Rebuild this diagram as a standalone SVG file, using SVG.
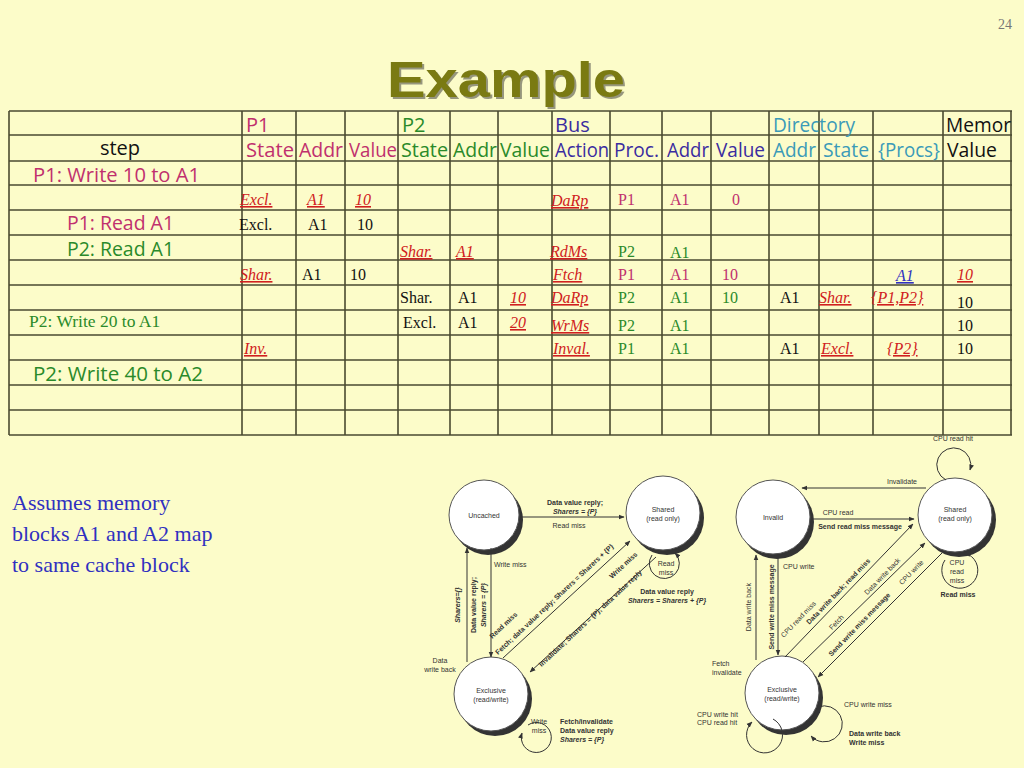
<svg xmlns="http://www.w3.org/2000/svg" width="1024" height="768" viewBox="0 0 1024 768">
<defs>
<style>
.h{font-family:"Open Sans","Liberation Sans",sans-serif;font-size:20px}
.m{fill:#c0306e}.g{fill:#2a8a2a}.b{fill:#3a2ca0}.t{fill:#3a9ab8}.k{fill:#111}
.s{font-family:"Liberation Serif",serif;font-size:16px}
.r{fill:#d02020;font-style:italic;text-decoration:underline}
.bl{fill:#3030c0;font-style:italic;text-decoration:underline}
.d{font-family:"Liberation Sans",sans-serif;font-size:7px;fill:#333}
.db{font-weight:bold}
.ln{stroke:#333;stroke-width:1;fill:none}
.grid line{stroke:#4a4a30;stroke-width:1.6}
</style>
<marker id="a" viewBox="0 0 10 10" refX="9" refY="5" markerWidth="6" markerHeight="6" orient="auto"><path d="M0,1 L10,5 L0,9 z" fill="#333"/></marker>
</defs>
<rect width="1024" height="768" fill="#fcfcc9"/>
<text x="1005" y="29" font-family="Liberation Serif,serif" font-size="14" fill="#777" text-anchor="middle">24</text>
<text x="389" y="99" font-family="Liberation Sans,sans-serif" font-size="50" font-weight="bold" fill="#333" textLength="238" lengthAdjust="spacingAndGlyphs" opacity="0.5">Example</text>
<text x="387" y="97" font-family="Liberation Sans,sans-serif" font-size="50" font-weight="bold" fill="#7a7a12" textLength="238" lengthAdjust="spacingAndGlyphs">Example</text>

<g id="table">
<g class="grid">
<line x1="9" y1="111" x2="1012" y2="111"/><line x1="9" y1="135" x2="1012" y2="135"/><line x1="9" y1="161" x2="1012" y2="161"/><line x1="9" y1="185" x2="1012" y2="185"/><line x1="9" y1="210" x2="1012" y2="210"/><line x1="9" y1="235" x2="1012" y2="235"/><line x1="9" y1="260" x2="1012" y2="260"/><line x1="9" y1="285" x2="1012" y2="285"/><line x1="9" y1="310" x2="1012" y2="310"/><line x1="9" y1="335" x2="1012" y2="335"/><line x1="9" y1="360" x2="1012" y2="360"/><line x1="9" y1="385" x2="1012" y2="385"/><line x1="9" y1="410" x2="1012" y2="410"/><line x1="9" y1="435" x2="1012" y2="435"/>
<line x1="9" y1="111" x2="9" y2="435"/><line x1="242" y1="111" x2="242" y2="435"/><line x1="296" y1="111" x2="296" y2="435"/><line x1="345" y1="111" x2="345" y2="435"/><line x1="398" y1="111" x2="398" y2="435"/><line x1="450" y1="111" x2="450" y2="435"/><line x1="498" y1="111" x2="498" y2="435"/><line x1="552" y1="111" x2="552" y2="435"/><line x1="610" y1="111" x2="610" y2="435"/><line x1="662" y1="111" x2="662" y2="435"/><line x1="711" y1="111" x2="711" y2="435"/><line x1="769" y1="111" x2="769" y2="435"/><line x1="819" y1="111" x2="819" y2="435"/><line x1="873" y1="111" x2="873" y2="435"/><line x1="943" y1="111" x2="943" y2="435"/><line x1="1011" y1="111" x2="1011" y2="435"/>
</g>
<g class="h">
<text x="246" y="132" class="m">P1</text><text x="402" y="132" class="g">P2</text><text x="555" y="132" class="b">Bus</text><text x="773" y="132" class="t" textLength="82" lengthAdjust="spacingAndGlyphs">Directory</text><text x="946" y="132" class="k" textLength="65" lengthAdjust="spacingAndGlyphs">Memor</text>
<text x="120" y="155" class="k" text-anchor="middle">step</text>
<text x="246" y="157" class="m" textLength="48" lengthAdjust="spacingAndGlyphs">State</text><text x="299" y="157" class="m" textLength="44" lengthAdjust="spacingAndGlyphs">Addr</text><text x="349" y="157" class="m" textLength="48" lengthAdjust="spacingAndGlyphs">Value</text>
<text x="401" y="157" class="g" textLength="47" lengthAdjust="spacingAndGlyphs">State</text><text x="453" y="157" class="g" textLength="44" lengthAdjust="spacingAndGlyphs">Addr</text><text x="500" y="157" class="g" textLength="50" lengthAdjust="spacingAndGlyphs">Value</text>
<text x="555" y="157" class="b" textLength="54" lengthAdjust="spacingAndGlyphs">Action</text><text x="614" y="157" class="b" textLength="45" lengthAdjust="spacingAndGlyphs">Proc.</text><text x="667" y="157" class="b" textLength="42" lengthAdjust="spacingAndGlyphs">Addr</text><text x="716" y="157" class="b" textLength="49" lengthAdjust="spacingAndGlyphs">Value</text>
<text x="773" y="157" class="t" textLength="43" lengthAdjust="spacingAndGlyphs">Addr</text><text x="823" y="157" class="t" textLength="46" lengthAdjust="spacingAndGlyphs">State</text><text x="878" y="157" class="t" textLength="62" lengthAdjust="spacingAndGlyphs">{Procs}</text><text x="947" y="157" class="k" textLength="50" lengthAdjust="spacingAndGlyphs">Value</text>
<text x="33" y="182" class="m" textLength="167" lengthAdjust="spacingAndGlyphs">P1: Write 10 to A1</text>
<text x="67" y="230" class="m" textLength="107" lengthAdjust="spacingAndGlyphs">P1: Read A1</text>
<text x="67" y="256" class="g" textLength="107" lengthAdjust="spacingAndGlyphs">P2: Read A1</text>
<text x="33" y="381" class="g" textLength="170" lengthAdjust="spacingAndGlyphs">P2: Write 40 to A2</text>
</g>
<g class="s">
<text x="240" y="205" class="r">Excl.</text><text x="307" y="205" class="r">A1</text><text x="355" y="205" class="r">10</text><text x="551" y="206" class="r">DaRp</text><text x="618" y="205" class="m">P1</text><text x="670" y="205" class="m">A1</text><text x="732" y="205" class="m">0</text>
<text x="239" y="230" class="k">Excl.</text><text x="308" y="230" class="k">A1</text><text x="357" y="230" class="k">10</text>
<text x="400" y="257" class="r">Shar.</text><text x="456" y="257" class="r">A1</text><text x="550" y="257" class="r">RdMs</text><text x="618" y="257" class="g">P2</text><text x="670" y="258" class="g">A1</text>
<text x="240" y="280" class="r">Shar.</text><text x="302" y="280" class="k">A1</text><text x="350" y="280" class="k">10</text><text x="553" y="280" class="r">Ftch</text><text x="618" y="280" class="m">P1</text><text x="670" y="280" class="m">A1</text><text x="722" y="280" class="m">10</text><text x="896" y="281" class="bl">A1</text><text x="957" y="280" class="r">10</text>
<text x="400" y="303" class="k">Shar.</text><text x="458" y="303" class="k">A1</text><text x="510" y="303" class="r">10</text><text x="551" y="303" class="r">DaRp</text><text x="618" y="303" class="g">P2</text><text x="670" y="303" class="g">A1</text><text x="722" y="303" class="g">10</text><text x="780" y="303" class="k">A1</text><text x="819" y="303" class="r">Shar.</text><text x="871" y="303" class="r">{P1,P2}</text><text x="957" y="308" class="k">10</text>
<text x="29" y="327" class="g" font-size="17.5">P2: Write 20 to A1</text><text x="403" y="328" class="k">Excl.</text><text x="458" y="328" class="k">A1</text><text x="510" y="328" class="r">20</text><text x="551" y="331" class="r">WrMs</text><text x="618" y="331" class="g">P2</text><text x="670" y="331" class="g">A1</text><text x="957" y="331" class="k">10</text>
<text x="244" y="354" class="r">Inv.</text><text x="553" y="354" class="r">Inval.</text><text x="618" y="354" class="g">P1</text><text x="670" y="354" class="g">A1</text><text x="780" y="354" class="k">A1</text><text x="821" y="354" class="r">Excl.</text><text x="887" y="354" class="r">{P2}</text><text x="957" y="354" class="k">10</text>
</g>
</g>

<g id="note" font-family="Liberation Serif,serif" font-size="22" fill="#3030c0">
<text x="12" y="510">Assumes memory</text><text x="12" y="541">blocks A1 and A2 map</text><text x="12" y="572">to same cache block</text>
</g>

<g id="dir-nodes">
<g id="uncached"><circle cx="488" cy="520" r="35" fill="#333"/><circle cx="484" cy="515" r="35" fill="#fff" stroke="#555"/><text x="484" y="518" class="d" text-anchor="middle">Uncached</text></g>
<g id="shared1"><circle cx="667" cy="518" r="37" fill="#333"/><circle cx="663" cy="513" r="37" fill="#fff" stroke="#555"/><text x="663" y="512" class="d" text-anchor="middle">Shared</text><text x="663" y="521" class="d" text-anchor="middle">(read only)</text></g>
<g id="excl1"><circle cx="495" cy="699" r="37" fill="#333"/><circle cx="491" cy="694" r="37" fill="#fff" stroke="#555"/><text x="491" y="693" class="d" text-anchor="middle">Exclusive</text><text x="491" y="702" class="d" text-anchor="middle">(read/write)</text></g>
</g>
<g id="dir-connectors">
<line x1="522" y1="517" x2="624" y2="517" class="ln" marker-end="url(#a)"/>
<text x="575" y="505" class="d db" text-anchor="middle">Data value reply;</text><text x="575" y="514" class="d db" font-style="italic" text-anchor="middle">Sharers = {P}</text><text x="569" y="528" class="d" text-anchor="middle">Read miss</text>
<line x1="467" y1="662" x2="467" y2="548" class="ln" marker-end="url(#a)"/>
<line x1="491" y1="548" x2="491" y2="657" class="ln" marker-end="url(#a)"/>
<text x="494" y="567" class="d">Write miss</text>
<text transform="translate(460,605) rotate(-90)" class="d db" font-style="italic" text-anchor="middle">Sharers={}</text>
<text transform="translate(476,605) rotate(-90)" class="d db" text-anchor="middle">Data value reply;</text>
<text transform="translate(486,605) rotate(-90)" class="d db" font-style="italic" text-anchor="middle">Sharers = {P}</text>
<text x="440" y="663" class="d" text-anchor="middle">Data</text><text x="440" y="672" class="d" text-anchor="middle">write back</text>
<line x1="503" y1="658" x2="630" y2="541" class="ln" marker-end="url(#a)"/>
<line x1="656" y1="557" x2="530" y2="672" class="ln" marker-end="url(#a)"/>
<text transform="translate(556,601) rotate(-43)" class="d db" text-anchor="middle">Fetch; data value reply; Sharers = Sharers + {P}</text>
<text transform="translate(505,627) rotate(-43)" class="d db" text-anchor="middle">Read miss</text>
<text transform="translate(592,620) rotate(-43)" class="d db" text-anchor="middle">Invalidate; Sharers = {P}; data value reply</text>
<text transform="translate(625,567) rotate(-43)" class="d db" text-anchor="middle">Write miss</text>
<path d="M652,555 A15,15 0 1 0 675,553" class="ln" marker-end="url(#a)"/>
<text x="666" y="566" class="d" text-anchor="middle">Read</text><text x="666" y="575" class="d" text-anchor="middle">miss</text>
<text x="667" y="594" class="d db" text-anchor="middle">Data value reply</text><text x="667" y="603" class="d db" font-style="italic" text-anchor="middle">Sharers = Sharers + {P}</text>
<path d="M528,725 A15,15 0 1 1 522,733" class="ln" marker-end="url(#a)"/>
<text x="539" y="724" class="d" text-anchor="middle">Write</text><text x="539" y="733" class="d" text-anchor="middle">miss</text>
<text x="560" y="724" class="d db">Fetch/invalidate</text><text x="560" y="733" class="d db">Data value reply</text><text x="560" y="742" class="d db" font-style="italic">Sharers = {P}</text>
</g>

<g id="cache-nodes">
<g id="invalid"><circle cx="777" cy="522" r="37" fill="#333"/><circle cx="773" cy="517" r="37" fill="#fff" stroke="#555"/><text x="773" y="520" class="d" text-anchor="middle">Invalid</text></g>
<g id="shared2"><circle cx="959" cy="520" r="37" fill="#333"/><circle cx="955" cy="515" r="37" fill="#fff" stroke="#555"/><text x="955" y="512" class="d" text-anchor="middle">Shared</text><text x="955" y="521" class="d" text-anchor="middle">(read only)</text></g>
<g id="excl2"><circle cx="786" cy="698" r="37" fill="#333"/><circle cx="782" cy="693" r="37" fill="#fff" stroke="#555"/><text x="782" y="692" class="d" text-anchor="middle">Exclusive</text><text x="782" y="701" class="d" text-anchor="middle">(read/write)</text></g>
</g>
<g id="cache-connectors">
<line x1="926" y1="488" x2="802" y2="488" class="ln" marker-end="url(#a)"/>
<text x="902" y="484" class="d" text-anchor="middle">Invalidate</text>
<line x1="812" y1="519" x2="914" y2="519" class="ln" marker-end="url(#a)"/>
<text x="838" y="515" class="d" text-anchor="middle">CPU read</text><text x="860" y="529" class="d db" text-anchor="middle">Send read miss message</text>
<path d="M946,480 A17,17 0 1 1 970,470" class="ln" marker-end="url(#a)"/>
<text x="953" y="441" class="d" text-anchor="middle">CPU read hit</text>
<line x1="756" y1="660" x2="756" y2="555" class="ln" marker-end="url(#a)"/>
<line x1="778" y1="558" x2="778" y2="655" class="ln" marker-end="url(#a)"/>
<text transform="translate(751,607) rotate(-90)" class="d" text-anchor="middle">Data write back</text>
<text transform="translate(774,607) rotate(-90)" class="d db" text-anchor="middle">Send write miss message</text>
<text x="783" y="569" class="d">CPU write</text>
<text x="712" y="666" class="d">Fetch</text><text x="712" y="675" class="d">invalidate</text>
<line x1="785" y1="657" x2="913" y2="524" class="ln" marker-end="url(#a)"/>
<line x1="803" y1="662" x2="925" y2="543" class="ln" marker-end="url(#a)"/>
<line x1="942" y1="553" x2="818" y2="677" class="ln" marker-end="url(#a)"/>
<text transform="translate(800,621) rotate(-46)" class="d" text-anchor="middle">CPU read miss</text>
<text transform="translate(840,593) rotate(-46)" class="d db" text-anchor="middle">Data write back; read miss</text>
<text transform="translate(838,624) rotate(-46)" class="d" text-anchor="middle">Fetch</text>
<text transform="translate(884,578) rotate(-46)" class="d" text-anchor="middle">Data write back</text>
<text transform="translate(861,626) rotate(-46)" class="d db" text-anchor="middle">Send write miss message</text>
<text transform="translate(913,574) rotate(-46)" class="d" text-anchor="middle">CPU write</text>
<path d="M945,560 A18,18 0 1 0 965,553" class="ln" marker-end="url(#a)"/>
<text x="957" y="565" class="d" text-anchor="middle">CPU</text><text x="957" y="574" class="d" text-anchor="middle">read</text><text x="957" y="583" class="d" text-anchor="middle">miss</text>
<text x="958" y="597" class="d db" text-anchor="middle">Read miss</text>
<path d="M773,719 A18,18 0 1 1 752,722" class="ln" marker-end="url(#a)"/>
<text x="697" y="717" class="d">CPU write hit</text><text x="697" y="725" class="d">CPU read hit</text>
<path d="M818,707 A18,18 0 1 1 811,736" class="ln" marker-end="url(#a)"/>
<text x="844" y="707" class="d">CPU write miss</text>
<text x="849" y="736" class="d db">Data write back</text><text x="849" y="745" class="d db">Write miss</text>
</g>
</svg>
